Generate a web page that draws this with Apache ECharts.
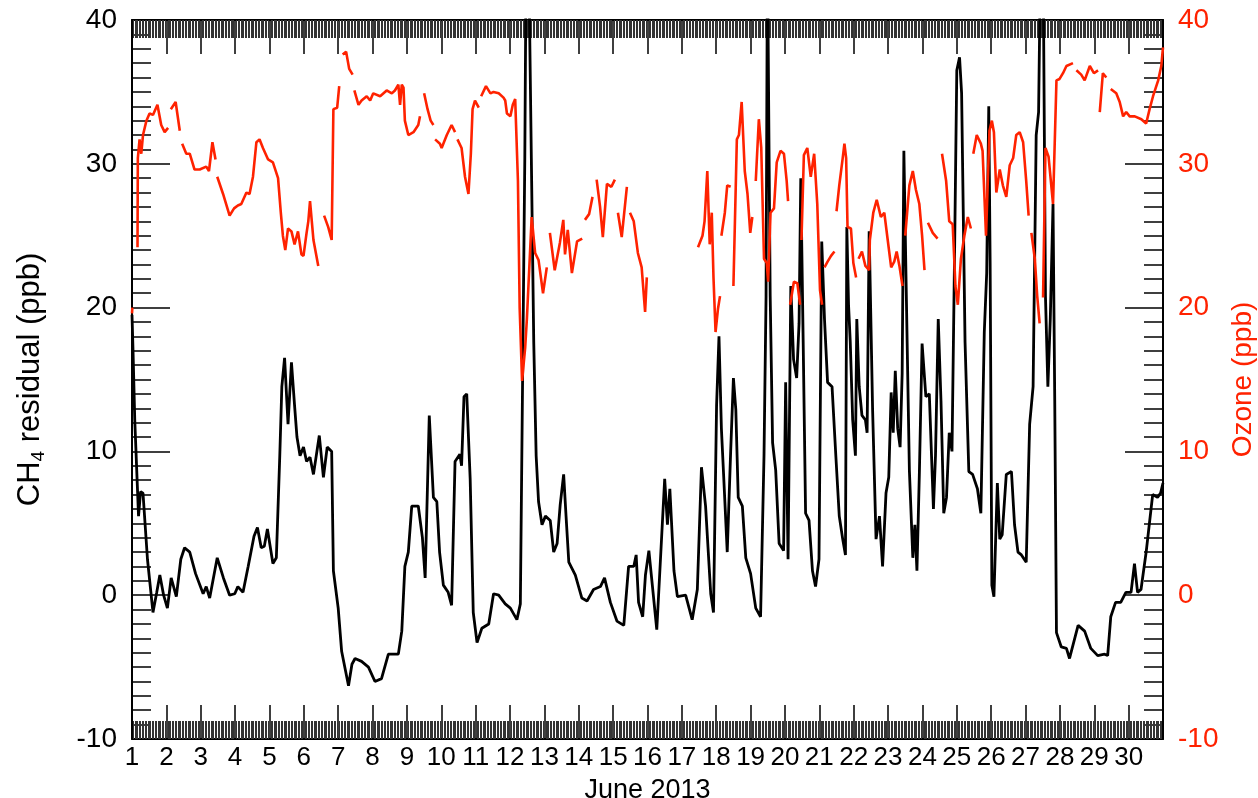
<!DOCTYPE html>
<html>
<head>
<meta charset="utf-8">
<title>CH4 residual and ozone, June 2013</title>
<script src="https://cdn.jsdelivr.net/npm/echarts@6/dist/echarts.min.js"></script>
<style>
  html, body { margin: 0; padding: 0; background: #fff; }
  #chart { width: 1258px; height: 798px; }
</style>
</head>
<body>
<div id="chart"></div>
<script>
// time axis in days of June 2013 (1 = start of June 1st)
var dayMin = 1, dayMax = 31;
var ppbMin = -10, ppbMax = 40;

// CH4 residual (ppb), [day, value]
var ch4 = [
  [1.00, 19.5], [1.03, 17.0], [1.08, 12.2], [1.19, 5.5], [1.25, 7.2], [1.32, 7.1],
  [1.45, 2.5], [1.61, -1.2], [1.72, 0.2], [1.81, 1.4], [1.92, 0.0], [2.03, -0.9],
  [2.14, 1.2], [2.29, -0.1], [2.42, 2.5], [2.53, 3.3], [2.68, 3.0], [2.85, 1.5],
  [3.07, 0.1], [3.16, 0.6], [3.26, -0.2], [3.48, 2.6], [3.66, 1.2], [3.84, 0.0],
  [3.99, 0.1], [4.08, 0.6], [4.23, 0.2], [4.38, 2.0], [4.55, 4.1], [4.65, 4.7],
  [4.76, 3.3], [4.85, 3.4], [4.94, 4.6], [5.10, 2.2], [5.20, 2.6], [5.30, 9.7],
  [5.36, 14.5], [5.44, 16.5], [5.54, 11.9], [5.64, 16.2], [5.73, 13.2], [5.80, 11.0],
  [5.89, 9.7], [5.99, 10.3], [6.08, 9.3], [6.18, 9.6], [6.28, 8.4], [6.45, 11.1],
  [6.57, 8.2], [6.68, 10.3], [6.81, 10.0], [6.86, 1.7], [7.00, -0.9], [7.10, -3.9],
  [7.30, -6.3], [7.40, -4.8], [7.49, -4.4], [7.68, -4.6], [7.88, -5.0], [8.07, -6.0],
  [8.26, -5.8], [8.46, -4.1], [8.75, -4.1], [8.85, -2.5], [8.94, 2.0], [9.04, 3.0],
  [9.14, 6.2], [9.33, 6.2], [9.45, 4.0], [9.53, 1.2], [9.65, 12.5], [9.77, 6.8],
  [9.87, 6.5], [9.95, 3.0], [10.06, 0.7], [10.20, 0.2], [10.30, -0.7], [10.40, 9.3],
  [10.54, 9.8], [10.59, 9.0], [10.66, 13.8], [10.74, 14.0], [10.84, 8.1], [10.93, -1.2],
  [11.04, -3.3], [11.18, -2.3], [11.38, -2.0], [11.52, 0.1], [11.67, 0.0], [11.86, -0.6],
  [12.01, -0.9], [12.20, -1.7], [12.30, -0.6], [12.35, 11.3], [12.43, 30.4], [12.47, 45],
  [12.54, 45], [12.62, 30.4], [12.69, 17.6], [12.76, 9.7], [12.83, 6.5], [12.93, 4.9],
  [13.03, 5.5], [13.17, 5.2], [13.27, 3.0], [13.37, 3.6], [13.46, 6.3], [13.56, 8.4],
  [13.63, 5.5], [13.71, 2.3], [13.90, 1.4], [14.09, -0.2], [14.24, -0.4], [14.43, 0.4],
  [14.63, 0.6], [14.75, 1.2], [14.92, -0.5], [15.11, -1.8], [15.31, -2.1], [15.45, 2.0],
  [15.60, 2.0], [15.67, 2.8], [15.74, -0.5], [15.86, -1.5], [15.94, 1.4], [16.04, 3.1],
  [16.27, -2.4], [16.50, 8.1], [16.58, 4.9], [16.65, 7.4], [16.77, 1.7], [16.87, -0.1],
  [17.11, 0.0], [17.30, -1.7], [17.45, 0.4], [17.57, 8.9], [17.69, 6.2], [17.84, 0.1],
  [17.92, -1.2], [18.01, 13.2], [18.08, 18.0], [18.15, 11.6], [18.22, 8.1], [18.32, 3.0],
  [18.42, 10.0], [18.50, 15.1], [18.57, 12.9], [18.64, 6.8], [18.76, 6.2], [18.86, 2.6],
  [19.00, 1.5], [19.15, -0.9], [19.29, -1.5], [19.39, 9.7], [19.45, 20.8], [19.49, 45],
  [19.54, 45], [19.57, 20.8], [19.64, 10.6], [19.73, 8.7], [19.83, 3.6], [19.96, 3.1],
  [20.02, 14.8], [20.09, 2.5], [20.17, 21.5], [20.25, 16.4], [20.34, 15.1], [20.41, 18.9],
  [20.46, 29.0], [20.53, 17.6], [20.60, 5.7], [20.70, 5.2], [20.80, 1.7], [20.89, 0.6],
  [20.99, 2.5], [21.07, 24.6], [21.15, 19.2], [21.24, 14.8], [21.37, 14.5], [21.48, 9.7],
  [21.58, 5.5], [21.68, 3.9], [21.76, 2.8], [21.80, 25.6], [21.85, 20.2], [21.90, 17.6],
  [21.97, 12.2], [22.05, 9.7], [22.09, 19.2], [22.16, 14.5], [22.24, 12.5], [22.34, 12.2],
  [22.39, 11.3], [22.45, 25.3], [22.55, 12.9], [22.65, 3.9], [22.75, 5.5], [22.84, 2.0],
  [22.94, 7.1], [23.02, 8.2], [23.09, 14.1], [23.15, 11.3], [23.21, 15.6], [23.28, 11.6],
  [23.35, 10.3], [23.41, 15.4], [23.46, 30.9], [23.52, 22.4], [23.62, 8.7], [23.72, 2.6],
  [23.78, 4.9], [23.84, 1.7], [23.91, 8.4], [23.99, 17.5], [24.10, 13.8], [24.20, 14.0],
  [24.32, 6.0], [24.38, 9.7], [24.46, 19.2], [24.54, 13.5], [24.62, 5.7], [24.70, 6.8],
  [24.78, 11.3], [24.86, 10.0], [24.93, 22.8], [25.00, 36.5], [25.08, 37.4], [25.14, 34.9],
  [25.24, 17.6], [25.35, 8.6], [25.46, 8.4], [25.60, 7.4], [25.70, 5.7], [25.80, 18.3],
  [25.87, 22.4], [25.93, 34.0], [25.97, 23.1], [26.02, 0.7], [26.08, -0.1], [26.18, 7.8],
  [26.25, 3.9], [26.32, 4.2], [26.44, 8.4], [26.59, 8.6], [26.68, 4.9], [26.78, 3.0],
  [26.88, 2.8], [27.02, 2.3], [27.12, 11.9], [27.22, 14.5], [27.31, 32.0], [27.38, 33.6],
  [27.44, 45], [27.51, 45], [27.58, 20.8], [27.65, 14.5], [27.72, 19.2], [27.80, 27.2],
  [27.85, 13.5], [27.90, -2.6], [28.04, -3.6], [28.19, -3.7], [28.28, -4.4], [28.53, -2.1],
  [28.72, -2.5], [28.90, -3.7], [29.10, -4.2], [29.30, -4.1], [29.39, -4.2], [29.48, -1.5],
  [29.62, -0.5], [29.77, -0.5], [29.92, 0.2], [30.07, 0.2], [30.17, 2.2], [30.26, 0.2],
  [30.36, 0.4], [30.51, 3.0], [30.60, 4.9], [30.70, 7.0], [30.84, 6.8], [30.93, 7.1],
  [31.00, 7.8]
];

// Ozone (ppb), [day, value]; null marks a gap in the record
var ozone = [
  [1.00, 19.6], [1.01, 20.0], [1.02, null],
  [1.16, 24.2], [1.17, 30.4], [1.22, 31.7], [1.27, 30.7], [1.32, 32.0], [1.42, 33.0],
  [1.51, 33.5], [1.61, 33.4], [1.74, 34.1], [1.85, 32.7], [1.95, 32.2], [2.05, 32.5], [2.09, null],
  [2.13, 33.8], [2.27, 34.3], [2.39, 32.3], [2.42, null],
  [2.46, 31.4], [2.58, 30.7], [2.68, 30.7], [2.82, 29.6], [2.97, 29.6], [3.16, 29.8],
  [3.24, 29.5], [3.34, 31.5], [3.43, 30.3], [3.45, null],
  [3.48, 29.1], [3.65, 27.9], [3.84, 26.4], [3.97, 26.9], [4.08, 27.1], [4.18, 27.2],
  [4.33, 28.0], [4.42, 27.9], [4.52, 29.1], [4.62, 31.5], [4.71, 31.7], [4.81, 31.1],
  [4.96, 30.3], [5.10, 30.1], [5.25, 29.0], [5.33, 26.6], [5.39, 25.0], [5.46, 24.0],
  [5.54, 25.5], [5.64, 25.3], [5.73, 24.4], [5.83, 25.3], [5.93, 23.7], [5.99, 23.6],
  [6.08, 25.2], [6.13, 26.0], [6.18, 27.4], [6.28, 24.7], [6.42, 22.9], [6.50, null],
  [6.59, 26.4], [6.71, 25.6], [6.81, 24.7], [6.86, 33.8], [6.97, 33.9], [7.03, 35.4], [7.08, null],
  [7.13, 37.6], [7.23, 37.8], [7.32, 36.6], [7.42, 36.2], [7.44, null],
  [7.47, 35.1], [7.59, 34.1], [7.68, 34.4], [7.83, 34.7], [7.93, 34.4], [8.02, 34.9],
  [8.22, 34.7], [8.41, 35.1], [8.56, 34.9], [8.65, 35.1], [8.75, 35.5], [8.80, 34.1],
  [8.85, 35.5], [8.90, 35.3], [8.94, 33.0], [9.04, 32.0], [9.19, 32.2], [9.33, 32.7],
  [9.38, 33.3], [9.44, null],
  [9.50, 34.9], [9.60, 33.8], [9.69, 33.0], [9.77, 32.7], [9.80, null],
  [9.82, 31.7], [9.96, 31.4], [10.01, 31.1], [10.16, 32.0], [10.30, 32.7], [10.40, 32.2], [10.44, null],
  [10.47, 31.7], [10.59, 31.1], [10.69, 29.1], [10.79, 27.9], [10.86, 30.7], [10.91, 33.8],
  [10.98, 34.4], [11.09, 33.9], [11.12, null],
  [11.16, 34.7], [11.30, 35.4], [11.43, 34.9], [11.52, 35.0], [11.67, 34.9], [11.81, 34.6],
  [11.86, 34.4], [11.91, 33.5], [12.01, 33.3], [12.08, 34.1], [12.15, 34.5], [12.23, 28.8],
  [12.28, 20.0], [12.35, 14.9], [12.44, 17.2], [12.49, 19.2], [12.63, 26.3], [12.73, 23.8],
  [12.83, 23.3], [12.96, 21.0], [13.07, 22.8], [13.12, null],
  [13.16, 25.2], [13.30, 22.6], [13.45, 24.5], [13.55, 26.1], [13.60, 23.7], [13.68, 25.4],
  [13.80, 22.4], [13.95, 24.6], [14.10, 24.8], [14.14, null],
  [14.18, 26.1], [14.30, 26.5], [14.40, 27.7], [14.46, null],
  [14.52, 28.9], [14.62, 27.0], [14.70, 24.9], [14.82, 28.6], [14.95, 28.4], [15.05, 28.9], [15.10, null],
  [15.14, 26.6], [15.25, 24.9], [15.40, 28.4], [15.45, null],
  [15.49, 26.6], [15.60, 26.0], [15.72, 23.8], [15.83, 22.8], [15.93, 19.7], [15.98, 22.1], [16.5, null],
  [17.47, 24.2], [17.60, 25.0], [17.66, 26.0], [17.74, 29.5], [17.81, 24.4], [17.87, 26.6],
  [17.92, 22.1], [17.98, 18.3], [18.05, 19.9], [18.11, 20.8], [18.13, null],
  [18.15, 25.0], [18.25, 26.6], [18.32, 28.5], [18.42, 28.4], [18.46, null],
  [18.50, 21.5], [18.60, 31.7], [18.66, 32.0], [18.74, 34.3], [18.83, 29.5], [18.91, 27.9],
  [18.99, 25.2], [19.05, 26.3], [19.10, null],
  [19.15, 28.8], [19.24, 33.1], [19.31, 31.1], [19.39, 23.4], [19.47, 23.1], [19.51, 21.8],
  [19.58, 26.6], [19.68, 26.9], [19.76, 30.1], [19.87, 30.9], [19.97, 30.7], [20.05, 28.8],
  [20.09, 27.4], [20.12, null],
  [20.15, 20.2], [20.26, 21.8], [20.36, 21.7], [20.44, 20.2], [20.46, null],
  [20.48, 24.7], [20.55, 30.6], [20.65, 31.1], [20.75, 29.1], [20.85, 30.7], [20.94, 27.2],
  [21.02, 21.2], [21.08, 20.2], [21.12, null],
  [21.15, 22.8], [21.24, 23.2], [21.34, 23.6], [21.44, 23.9], [21.47, null],
  [21.50, 26.7], [21.58, 28.5], [21.68, 30.4], [21.73, 31.4], [21.78, 30.4], [21.82, 25.6],
  [21.92, 25.5], [21.99, 23.1], [22.07, 22.1], [22.10, null],
  [22.14, 23.4], [22.24, 23.9], [22.34, 22.9], [22.45, 22.6], [22.47, 24.7], [22.57, 26.6],
  [22.67, 27.5], [22.79, 26.3], [22.89, 26.6], [22.99, 24.7], [23.09, 22.8], [23.18, 23.2],
  [23.25, 23.9], [23.33, 22.9], [23.42, 21.5], [23.46, null],
  [23.50, 25.0], [23.62, 28.5], [23.72, 29.5], [23.81, 28.2], [23.91, 27.2], [23.99, 25.0],
  [24.06, 22.6], [24.11, null],
  [24.16, 25.9], [24.30, 25.2], [24.44, 24.8], [24.50, null],
  [24.57, 30.7], [24.69, 28.8], [24.78, 26.0], [24.88, 25.8], [24.96, 21.5], [25.03, 20.2],
  [25.12, 23.4], [25.22, 25.0], [25.32, 26.3], [25.41, 25.5], [25.45, null],
  [25.48, 30.7], [25.58, 32.0], [25.70, 31.4], [25.75, 30.9], [25.85, 25.0], [25.95, 32.3],
  [26.02, 33.0], [26.08, 32.2], [26.15, 28.0], [26.25, 29.6], [26.34, 28.5], [26.44, 27.7],
  [26.54, 29.9], [26.64, 30.4], [26.73, 32.0], [26.83, 32.2], [26.93, 31.5], [27.02, 28.8],
  [27.09, 26.4], [27.13, null],
  [27.17, 25.2], [27.27, 23.4], [27.34, 20.8], [27.41, 18.9], [27.46, null],
  [27.51, 20.7], [27.58, 31.1], [27.67, 30.5], [27.80, 27.2], [27.90, 35.8], [27.99, 35.9],
  [28.09, 36.3], [28.19, 36.8], [28.38, 37.0], [28.43, null],
  [28.48, 36.5], [28.62, 36.2], [28.72, 35.8], [28.87, 36.8], [28.99, 36.3], [29.11, 36.5], [29.13, null],
  [29.16, 33.6], [29.25, 36.3], [29.35, 36.0], [29.42, null],
  [29.48, 35.2], [29.64, 34.9], [29.74, 34.3], [29.84, 33.3], [29.93, 33.6], [30.03, 33.3],
  [30.18, 33.3], [30.37, 33.1], [30.51, 32.8], [30.61, 33.8], [30.71, 34.7], [30.86, 35.8],
  [30.95, 36.8], [31.00, 38.1]
];

var black = '#000000';
var red = '#ff2200';
var font = 'Liberation Sans';

function xAxisFor(pos, showLabels) {
  return {
    type: 'value',
    position: pos,
    min: dayMin,
    max: dayMax,
    interval: 1,
    name: showLabels ? 'June 2013' : '',
    nameLocation: 'middle',
    nameGap: 38,
    nameTextStyle: { fontSize: 27, color: black, fontFamily: font },
    axisLine: { show: true, onZero: false, lineStyle: { color: black, width: 2 } },
    axisTick: { show: true, inside: true, length: 34, lineStyle: { color: black, width: 1.5 } },
    minorTick: { show: true, splitNumber: 24, length: 18, lineStyle: { color: '#333333', width: 1 } },
    axisLabel: {
      show: showLabels,
      fontSize: 26,
      color: black,
      fontFamily: font,
      margin: 6,
      showMinLabel: true,
      formatter: function (v) { return v < dayMax ? String(v) : ''; }
    },
    splitLine: { show: false }
  };
}

function yAxisFor(pos, color, name, gap) {
  return {
    type: 'value',
    position: pos,
    min: ppbMin,
    max: ppbMax,
    interval: 10,
    name: name,
    nameLocation: 'middle',
    nameRotate: 90,
    nameGap: gap,
    nameTextStyle: {
      color: color,
      fontFamily: font,
      fontSize: 28,
      rich: {
        a: { fontSize: 31, color: color, fontFamily: font, lineHeight: 36 },
        s: { fontSize: 19, color: color, fontFamily: font, lineHeight: 22, verticalAlign: 'bottom' },
        o: { fontSize: 28, color: color, fontFamily: font }
      }
    },
    axisLine: { show: true, onZero: false, lineStyle: { color: black, width: 2 } },
    axisTick: { show: true, inside: true, length: 38, lineStyle: { color: black, width: 1.5 } },
    minorTick: { show: true, splitNumber: 10, length: 19, lineStyle: { color: black, width: 1.5 } },
    axisLabel: { fontSize: 28, color: color, fontFamily: font, margin: 15, showMinLabel: true, showMaxLabel: true },
    splitLine: { show: false }
  };
}

var chart = echarts.init(document.getElementById('chart'), null, { renderer: 'canvas' });
chart.setOption({
  animation: false,
  backgroundColor: '#ffffff',
  grid: { left: 132, right: 95, top: 20, bottom: 59, containLabel: false, outerBoundsMode: 'none' },
  xAxis: [xAxisFor('bottom', true), xAxisFor('top', false)],
  yAxis: [
    yAxisFor('left', black, '{a|CH}{s|4}{a| residual (ppb)}', 84),
    yAxisFor('right', red, '{o|Ozone (ppb)}', 64)
  ],
  series: [
    {
      name: 'CH4 residual',
      type: 'line',
      xAxisIndex: 0,
      yAxisIndex: 0,
      data: ch4,
      showSymbol: false,
      clip: true,
      lineStyle: { color: black, width: 2.8 },
      z: 2
    },
    {
      name: 'Ozone',
      type: 'line',
      xAxisIndex: 0,
      yAxisIndex: 1,
      data: ozone,
      showSymbol: false,
      connectNulls: false,
      clip: true,
      lineStyle: { color: red, width: 2.6 },
      z: 3
    }
  ]
});
</script>
</body>
</html>
